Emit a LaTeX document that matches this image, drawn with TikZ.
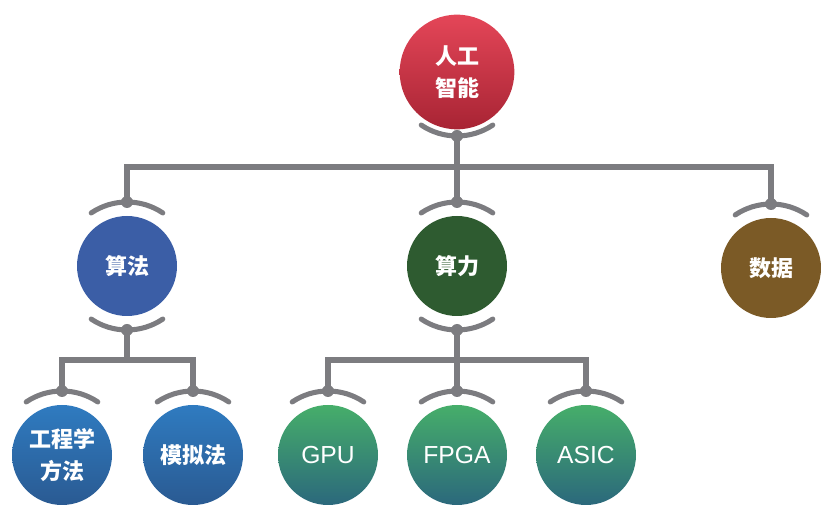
\documentclass[tikz,border=0pt]{standalone}
\usepackage{fontspec}
\setmainfont{Liberation Sans}
\newfontfamily\cjk{Noto Sans CJK SC}
\usetikzlibrary{calc}
\definecolor{lgray}{RGB}{124,124,128}
\definecolor{redT}{RGB}{228,70,88}
\definecolor{redB}{RGB}{168,36,52}
\definecolor{algblue}{RGB}{59,94,166}
\definecolor{cpgreen}{RGB}{46,91,48}
\definecolor{dbrown}{RGB}{123,90,38}
\definecolor{blueT}{RGB}{47,123,192}
\definecolor{blueB}{RGB}{42,90,146}
\definecolor{greenT}{RGB}{70,174,106}
\definecolor{greenB}{RGB}{43,104,124}
\begin{document}
\begin{tikzpicture}[x=0.75pt,y=-0.75pt,
  ball/.style={circle, minimum size=75pt, inner sep=0pt, text=white, align=center,
     font=\cjk\bfseries\fontsize{16.5}{24}\selectfont},
  bigball/.style={ball, minimum size=86pt},
  latin/.style={font=\fontsize{18.5}{22}\selectfont},
  conn/.style={draw=lgray, line width=3.8pt},
  brk/.style={draw=lgray, line width=3.8pt, line cap=round},
  knob/.style={fill=lgray}]
\useasboundingbox (0,0) rectangle (821,505);

% nodes
\node[bigball, top color=redT, bottom color=redB] (ai) at (457,72) {人工\\智能};
\node[ball, fill=algblue] (sf) at (127,266) {算法};
\node[ball, fill=cpgreen] (sl) at (457,266) {算力};
\node[ball, fill=dbrown] (sj) at (771,268) {数据};
\node[ball, top color=blueT, bottom color=blueB] (gc) at (62,455) {工程学\\方法};
\node[ball, top color=blueT, bottom color=blueB] (mn) at (193,455) {模拟法};
\node[ball, latin, top color=greenT, bottom color=greenB] (gpu) at (328,455) {GPU};
\node[ball, latin, top color=greenT, bottom color=greenB] (fpga) at (457,455) {FPGA};
\node[ball, latin, top color=greenT, bottom color=greenB] (asic) at (586,455) {ASIC};

% bracket points
\coordinate (ai-b) at ($(ai.center)+(0,-48pt)$);
\foreach \n in {sf,sl,sj,gc,mn,gpu,fpga,asic}{
  \coordinate (\n-t) at ($(\n.center)+(0,48pt)$);
}
\foreach \n in {sf,sl}{
  \coordinate (\n-b) at ($(\n.center)+(0,-48pt)$);
}
\coordinate (bus1) at (457,167);
\coordinate (bus2a) at (127,360);
\coordinate (bus2b) at (457,360);

% connectors
\draw[conn] (ai-b) -- (sl-t);
\draw[conn] (sf-t) |- (bus1) -| (sj-t);
\draw[conn] (sf-b) -- (bus2a);
\draw[conn] (gc-t) |- (bus2a) -| (mn-t);
\draw[conn] (sl-b) -- (fpga-t);
\draw[conn] (gpu-t) |- (bus2b) -| (asic-t);

% brackets
\draw[brk] ($(ai.center)+(236:48pt)$) arc[start angle=236, end angle=304, radius=48pt];
\fill[knob] (ai-b) circle (4.5pt);
\foreach \n in {sf,sl,sj,gc,mn,gpu,fpga,asic}{
  \draw[brk] ($(\n.center)+(124:48pt)$) arc[start angle=124, end angle=56, radius=48pt];
  \fill[knob] (\n-t) circle (4.5pt);
}
\foreach \n in {sf,sl}{
  \draw[brk] ($(\n.center)+(236:48pt)$) arc[start angle=236, end angle=304, radius=48pt];
  \fill[knob] (\n-b) circle (4.5pt);
}
\end{tikzpicture}
\end{document}
